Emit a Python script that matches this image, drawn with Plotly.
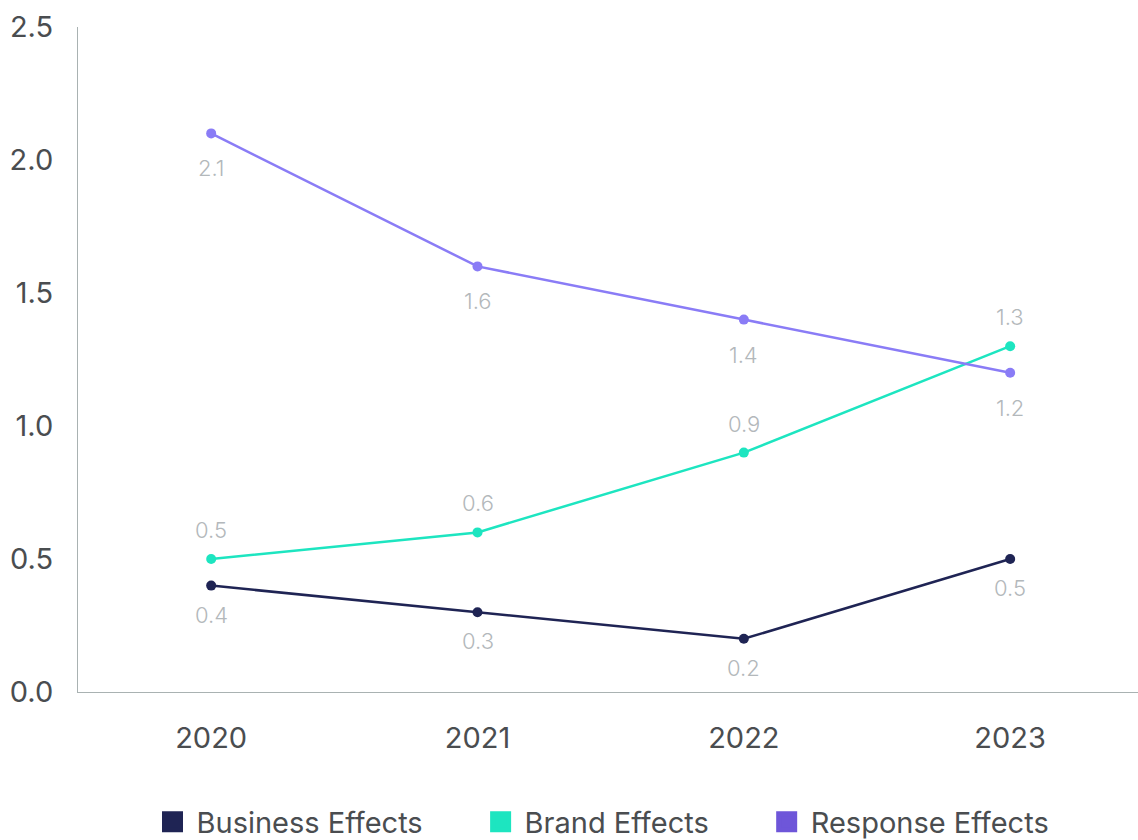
import plotly.graph_objects as go

years = ["2020", "2021", "2022", "2023"]
business = [0.4, 0.3, 0.2, 0.5]
brand = [0.5, 0.6, 0.9, 1.3]
response = [2.1, 1.6, 1.4, 1.2]

names = ["Business Effects", "Brand Effects", "Response Effects"]
line_colors = ["#1f2454", "#1de5c0", "#8a7cf6"]
legend_colors = ["#1f2454", "#1de5c0", "#6e56d9"]
label_shift = [-29, 29, -35]

fig = go.Figure()
annotations = []
for vals, name, lc, shift in zip([business, brand, response], names, line_colors, label_shift):
    fig.add_trace(go.Scatter(x=years, y=vals, mode="lines+markers", name=name,
                             line=dict(color=lc, width=2.5), marker=dict(color=lc, size=10),
                             showlegend=False, hoverinfo="x+y"))
    for i, v in enumerate(vals):
        annotations.append(dict(x=i, y=v, xref="x", yref="y", text=f"{v:.1f}", showarrow=False,
                                yshift=shift,
                                font=dict(family="Inter", size=22, weight=300, color="#b3b8bb")))

for name, c in zip(names, legend_colors):
    fig.add_trace(go.Scatter(x=[None], y=[None], mode="markers", name=name + "\u00a0" * 6,
                             marker=dict(symbol="square", color=c, size=16,
                                         line=dict(color=c, width=5))))

fig.update_layout(
    width=1138, height=840,
    margin=dict(l=78, r=0, t=27, b=148, autoexpand=False),
    paper_bgcolor="white", plot_bgcolor="white",
    font=dict(family="Inter", color="#4a4d50"),
    annotations=annotations,
    legend=dict(orientation="h", xref="container", x=0.1305, xanchor="left",
                yref="container", y=0.052, yanchor="top",
                font=dict(family="Inter", size=29, color="#4a4d50"),
                traceorder="normal", itemwidth=38),
    showlegend=True,
)
fig.update_xaxes(type="category", range=[-0.5, 3.48], showgrid=False, showline=True,
                 linecolor="#a9b2b2", linewidth=1, ticks="", ticklabelstandoff=20, automargin=False,
                 tickfont=dict(family="Inter", size=29, color="#4a4d50"), zeroline=False)
fig.update_yaxes(range=[0, 2.5], dtick=0.5, tickformat=".1f", showgrid=False, showline=True,
                 linecolor="#a9b2b2", linewidth=1, ticks="", ticklabelstandoff=18, automargin=False,
                 tickfont=dict(family="Inter", size=29, color="#4a4d50"), zeroline=False)

fig.write_html("out.html", config={"displayModeBar": False},
               post_script="document.body.style.margin='0';document.body.style.overflow='hidden';")
